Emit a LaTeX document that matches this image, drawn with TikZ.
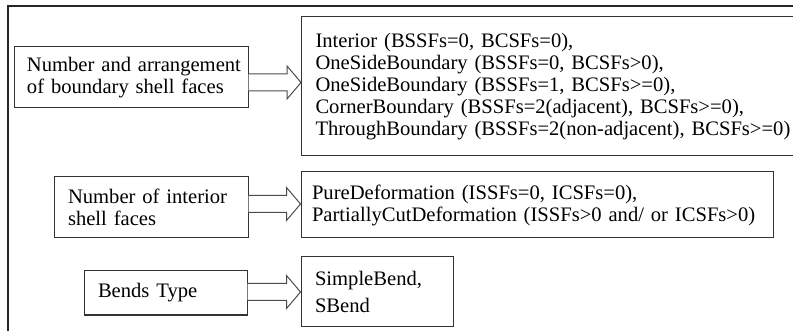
\documentclass[tikz,border=0pt]{standalone}
\usepackage{fontspec}
\setmainfont{Liberation Serif}
\usetikzlibrary{calc}
\newcommand\boxtextfont{\fontsize{20.6pt}{22pt}\selectfont}
\newcommand\bendtextfont{\fontsize{20.6pt}{27pt}\selectfont}
\tikzset{
  boxnode/.style={draw=black!80, line width=1pt, rectangle, align=left,
    font=\boxtextfont, inner ysep=0pt},
  arrowline/.style={draw=black!70, line width=1pt, fill=white, line join=miter},
  frameline/.style={draw=black!85, line width=2pt}
}
\newcommand\hollowarrow[3]{%
  \draw[arrowline] let \p1=(#1.east), \p2=(#2.west), \p3=(0,#3) in
    (\x1,\y3+8.5pt) -- (\x2-14pt,\y3+8.5pt) -- (\x2-14pt,\y3+16.5pt) --
    (\x2,\y3) -- (\x2-14pt,\y3-16.5pt) -- (\x2-14pt,\y3-8.5pt) -- (\x1,\y3-8.5pt);}
\begin{document}
\begin{tikzpicture}[x=1pt,y=-1pt]
\useasboundingbox (0,0) rectangle (793,331);
\clip (0,0) rectangle (793,331);
\fill[white] (0,0) rectangle (793,331);
% outer frame (extends beyond picture)
\draw[frameline] (8,360) -- (8,6) -- (820,6);
% row 1
\node[boxnode, minimum width=234pt, minimum height=61pt, text width=208pt, inner xsep=13pt] (q1) at (131,77.5)
  {\mbox{Number and arrangement}\\\mbox{of boundary shell faces}};
\node[boxnode, minimum width=520pt, minimum height=139pt, text width=492pt, inner xsep=14pt,
  anchor=west] (a1) at (301,86.5)
  {Interior (BSSFs=0, BCSFs=0),\\
   OneSideBoundary (BSSFs=0, BCSFs>0),\\
   OneSideBoundary (BSSFs=1, BCSFs>=0),\\
   CornerBoundary (BSSFs=2(adjacent), BCSFs>=0),\\
   ThroughBoundary (BSSFs=2(non-adjacent), BCSFs>=0)\par\vspace*{17pt}};
\hollowarrow{q1}{a1}{82.5}
% row 2
\node[boxnode, minimum width=194pt, minimum height=61pt, text width=166pt, inner xsep=14pt] (q2) at (151,207.5)
  {Number of interior\\shell faces};
\node[boxnode, minimum width=472pt, minimum height=66pt, text width=450pt, inner xsep=11pt] (a2) at (537,205)
  {PureDeformation (ISSFs=0, ICSFs=0),\\
   PartiallyCutDeformation (ISSFs>0 and/ or ICSFs>0)};
\hollowarrow{q2}{a2}{204}
% row 3
\node[boxnode, minimum width=163pt, minimum height=44pt, text width=135pt, inner xsep=14pt] (q3) at (165.5,293)
  {Bends Type};
\node[boxnode, minimum width=152pt, minimum height=69pt, text width=124pt, inner xsep=14pt,
  font=\bendtextfont] (a3) at (377,291.5)
  {SimpleBend,\\SBend};
\hollowarrow{q3}{a3}{292}
\end{tikzpicture}
\end{document}
